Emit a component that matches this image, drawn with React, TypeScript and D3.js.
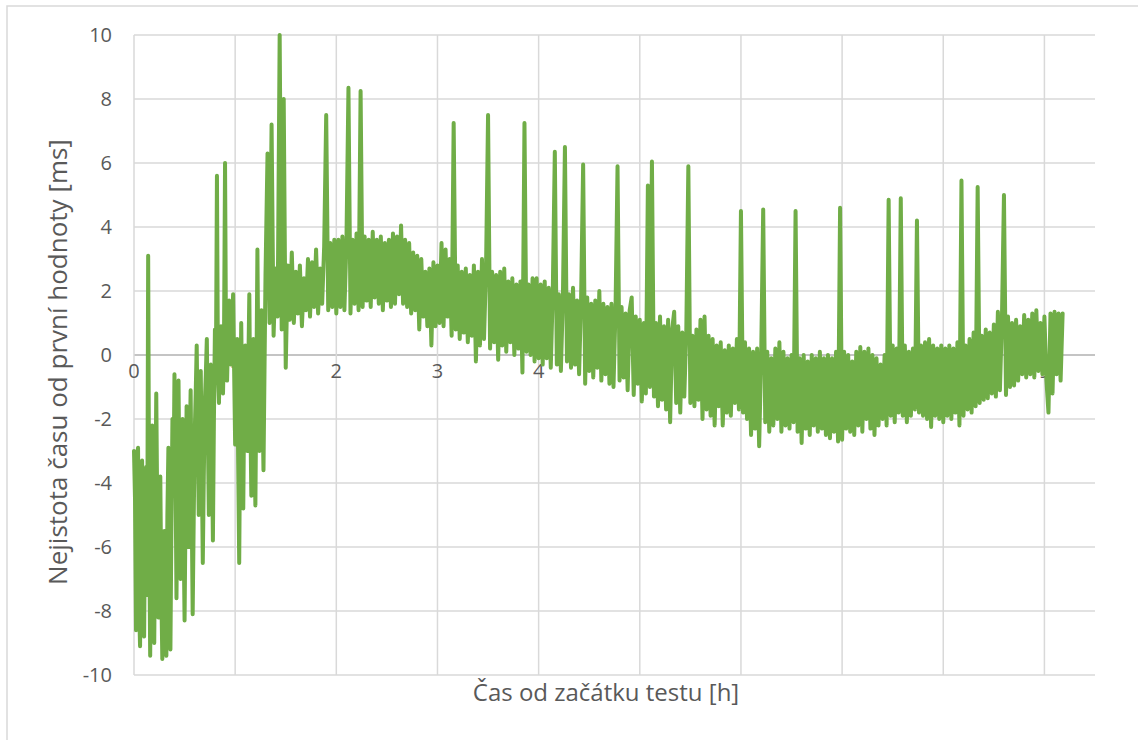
import React from "react";
import * as d3 from "d3";

// Time offset relative to the first reading [ms].
// The turbulent start-up (0 – 1.29 h) is sampled every 0.01 h,
// the rest of the run (1.30 – 9.18 h) every 0.02 h.
const EARLY_STEP_H = 0.01;
const LATE_START_H = 1.3;
const LATE_STEP_H = 0.02;

const hour0 = [
  -3.0, -4.5, -8.6, -3.2, -2.9, -7.8, -9.1, -4.0, -3.3, -6.9,
  -8.8, -4.6, -3.5, -7.5, 3.1, -5.2, -9.4, -4.8, -2.2, -6.5,
  -9.0, -5.1, -1.2, -4.9, -8.2, -5.6, -3.8, -7.4, -9.5, -6.8,
  -5.5, -8.7, -9.4, -5.0, -2.9, -6.6, -9.2, -5.3, -2.0, -4.4,
  -0.6, -3.5, -7.6, -3.9, -0.8, -4.2, -7.0, -4.8, -2.0, -5.5,
  -8.3, -4.7, -1.6, -3.3, -6.0, -3.0, -1.1, -4.6, -8.1, -5.2,
  -2.5, -1.2, 0.3, -2.6, -5.0, -2.2, -0.5, -3.4, -6.5, -3.8,
  -1.5, -0.6, 0.5, -2.4, -5.0, -2.1, -0.3, -2.9, -5.8, -2.0,
  0.8, -0.4, 5.6, -0.6, -1.5, 0.2, 0.9, -0.4, -1.2, 0.6,
  6.0, 0.1, -0.8, 0.6, 1.7, 0.4, -0.3, 1.1, 1.9, -0.5,
];
const hour1Early = [
  -2.8, -1.0, 0.5, -3.4, -6.5, -2.0, 1.0, -1.8, -4.8, -1.2,
  0.3, -2.2, -3.0, -0.4, 1.9, -1.9, -4.4, -1.5, 0.5, -2.6,
  -4.7, -0.8, 3.3, -0.6, -3.0, -0.9, 1.4, -1.4, -3.6, -0.5,
];
const hour1Late = [
  2.5, 6.3, 1.0, 7.2, 0.6, 2.7, 1.2, 10.0, 0.8, 8.0,
  -0.4, 2.8, 1.1, 3.2, 1.0, 2.6, 1.3, 2.8, 0.9, 2.4,
  1.4, 3.0, 1.2, 2.9, 1.5, 3.3, 1.3, 2.7, 1.6, 3.4,
  7.5, 1.4, 3.5, 1.5, 3.6,
];
const hour2 = [
  1.3, 3.6, 1.5, 3.7, 1.4, 3.5, 8.35, 1.3, 3.6, 1.6,
  3.8, 1.4, 8.25, 1.5, 3.7, 1.7, 3.6, 1.5, 3.85, 1.8,
  3.6, 1.6, 3.7, 1.4, 3.5, 1.7, 3.6, 1.5, 3.8, 1.6,
  3.7, 1.9, 4.05, 1.6, 3.6, 1.5, 3.5, 1.3, 3.2, 1.4,
  3.1, 0.8, 3.0, 1.2, 2.6, 0.9, 2.7, 0.3, 2.9, 0.9,
];
const hour3 = [
  2.8, 1.0, 3.5, 0.9, 3.3, 1.2, 3.0, 0.6, 7.25, 0.8,
  2.8, 0.5, 2.6, 0.7, 2.7, 0.4, 2.5, 0.6, 2.8, -0.2,
  2.6, 0.3, 3.0, 0.5, 2.7, 7.5, 0.2, 2.6, 0.4, 2.5,
  -0.15, 2.6, 0.3, 2.7, 0.1, 2.3, 0.4, 2.4, 0.0, 2.2,
  0.2, 2.3, -0.55, 7.25, 0.1, 2.2, 0.0, 2.4, -0.2, 2.4,
];
const hour4 = [
  -0.1, 2.2, -0.3, 2.3, -0.1, 2.1, -0.4, 2.0, 6.35, -0.3,
  1.9, -0.5, 1.8, 6.5, -0.2, 1.9, -0.4, 2.1, -0.3, 1.7,
  -0.6, 1.8, 5.95, -0.9, 1.8, -0.5, 1.6, -0.7, 1.7, -0.4,
  2.0, -0.8, 1.6, -0.6, 1.5, -0.9, 1.6, -1.0, 1.4, 5.9,
  -0.8, 1.5, -0.7, 1.3, -1.1, 1.4, 1.8, -1.25, 1.2, -0.9,
];
const hour5 = [
  1.1, -1.45, 1.0, -1.2, 5.3, -1.0, 6.05, -1.3, 1.0, -1.6,
  1.2, -1.4, 0.9, -1.7, 1.1, -2.1, 0.8, 1.35, -1.5, 0.9,
  -1.8, 0.7, -1.3, 0.8, 5.9, -1.5, 0.6, -1.6, 0.8, -1.4,
  1.1, -2.0, 1.2, -1.7, 0.6, -1.9, 0.5, -2.2, 0.3, -1.6,
  0.4, -2.2, 0.15, -1.8, 0.3, -1.9, 0.2, -1.5, 0.5, -1.7,
];
const hour6 = [
  4.5, -1.8, 0.4, -2.0, 0.2, -2.5, 0.1, -2.3, 0.2, -2.85,
  0.0, 4.55, -2.1, 0.1, -2.4, -0.1, -2.2, 0.2, -2.0, 0.4,
  -2.4, 0.1, -2.2, -0.1, -2.3, 0.0, -2.1, 4.5, -2.4, -0.1,
  -2.75, 0.0, -2.3, -0.2, -2.5, 0.0, -2.2, -0.1, -2.4, 0.1,
  -2.3, -0.1, -2.5, 0.0, -2.6, -0.1, -2.4, 0.1, -2.7, 4.6,
];
const hour7 = [
  -2.65, 0.1, -2.3, 0.0, -2.4, -0.2, -2.5, 0.1, -2.2, 0.25,
  -2.4, 0.1, -2.0, 0.2, -2.3, 0.0, -2.5, -0.1, -2.2, -0.3,
  -2.0, 0.0, -2.2, 4.85, -1.9, 0.3, -2.1, 0.2, -1.8, 4.9,
  -1.9, 0.3, -2.1, 0.1, -1.9, 0.2, -1.7, 4.2, -1.8, 0.3,
  -1.9, 0.4, -2.0, 0.5, -2.25, 0.3, -1.9, 0.2, -2.0, 0.3,
];
const hour8 = [
  -2.1, 0.2, -1.9, 0.3, -2.0, 0.2, -1.8, 0.4, -2.2, 5.45,
  -1.9, 0.3, -1.7, 0.5, -1.8, 0.7, -1.6, 5.25, -1.5, 0.6,
  -1.4, 0.8, -1.35, 0.7, -1.2, 0.95, -1.3, 1.35, -1.1, 1.1,
  5.0, -1.25, 1.2, -1.0, 1.0, -0.95, 1.1, -0.8, 0.9, -0.6,
  1.25, -0.7, 1.1, -0.6, 1.3, -0.7, 1.4, -0.5, 1.0, -0.6,
];
const hour9 = [1.2, -0.8, -1.8, 1.3, -1.2, 1.35, -0.6, 1.3, -0.8, 1.3];

const earlyOffsetsMs = [...hour0, ...hour1Early];
const lateOffsetsMs = [
  ...hour1Late, ...hour2, ...hour3, ...hour4, ...hour5,
  ...hour6, ...hour7, ...hour8, ...hour9,
];

const xTicks = [0, 1, 2, 3, 4, 5, 6, 7, 8, 9];
const yTicks = [-10, -8, -6, -4, -2, 0, 2, 4, 6, 8, 10];

const X_TITLE = "Čas od začátku testu [h]";
const Y_TITLE = "Nejistota času od první hodnoty [ms]";

const W = 1138;
const H = 740;
const plot = { left: 134, right: 1095, top: 35, bottom: 675 };
const FONT = "'Open Sans', 'Liberation Sans', sans-serif";
const TEXT = "#595959";
const GRID = "#d9d9d9";
const LINE = "#70ad47";

type Sample = { t: number; v: number };

export default function App() {
  const x = d3.scaleLinear().domain([0, 9.5]).range([plot.left, plot.right]);
  const y = d3.scaleLinear().domain([-10, 10]).range([plot.bottom, plot.top]);

  const points: Sample[] = [
    ...earlyOffsetsMs.map((v, i) => ({ t: i * EARLY_STEP_H, v })),
    ...lateOffsetsMs.map((v, i) => ({ t: LATE_START_H + i * LATE_STEP_H, v })),
  ];
  const path = d3
    .line<Sample>()
    .x((d) => x(d.t))
    .y((d) => y(d.v))(points);

  return (
    <svg
      width={W}
      height={H}
      style={{ position: "absolute", left: 0, top: 0, background: "#fff" }}
    >
      <rect x={7} y={6} width={W} height={H} fill="#fff" stroke={GRID} strokeWidth={1.5} />

      {yTicks.map((t) => (
        <line
          key={"gy" + t}
          x1={plot.left}
          x2={plot.right}
          y1={y(t)}
          y2={y(t)}
          stroke={t === 0 ? "#c4c4c4" : GRID}
          strokeWidth={t === 0 ? 2 : 1.5}
        />
      ))}
      {xTicks.map((t) => (
        <line
          key={"gx" + t}
          x1={x(t)}
          x2={x(t)}
          y1={plot.top}
          y2={plot.bottom}
          stroke={GRID}
          strokeWidth={1.5}
        />
      ))}

      {yTicks.map((t) => (
        <text
          key={"ly" + t}
          x={112}
          y={y(t)}
          dy="0.35em"
          textAnchor="end"
          fontFamily={FONT}
          fontSize={20}
          fill={TEXT}
        >
          {t}
        </text>
      ))}
      {xTicks.map((t) => (
        <text
          key={"lx" + t}
          x={x(t)}
          y={y(0) + 30}
          dy="-0.35em"
          textAnchor="middle"
          fontFamily={FONT}
          fontSize={20}
          fill={TEXT}
        >
          {t}
        </text>
      ))}

      <path
        d={path ?? ""}
        fill="none"
        stroke={LINE}
        strokeWidth={4}
        strokeLinejoin="round"
        strokeLinecap="round"
      />

      <text
        x={606}
        y={701}
        textAnchor="middle"
        fontFamily={FONT}
        fontSize={24}
        fill={TEXT}
      >
        {X_TITLE}
      </text>
      <text
        transform={`translate(58, 362) rotate(-90)`}
        textAnchor="middle"
        dy="0.35em"
        fontFamily={FONT}
        fontSize={26}
        fill={TEXT}
      >
        {Y_TITLE}
      </text>
    </svg>
  );
}
